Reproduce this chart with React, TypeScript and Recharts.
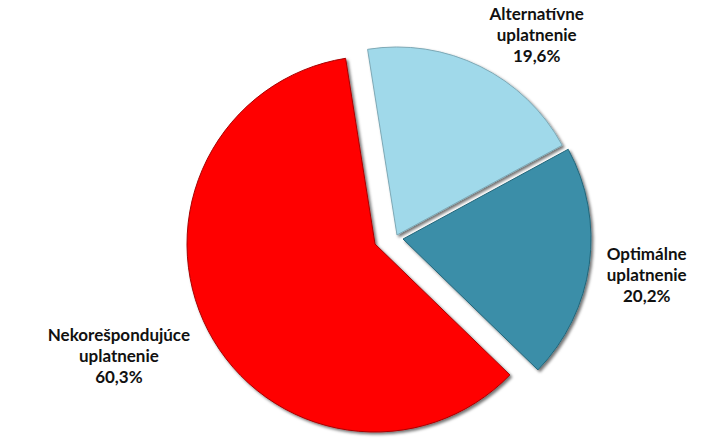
import React from 'react';
import { PieChart, Pie, Cell } from 'recharts';

// slices, clockwise from the top
const categories = ['Alternatívne', 'Optimálne', 'Nekorešpondujúce'];
const subtitle = 'uplatnenie';
const shares = [19.6, 20.2, 60.3];
const shareLabels = ['19,6%', '20,2%', '60,3%'];

const COLORS = ['#a0d9ea', '#3a8ea8', '#ff0000'];
const EDGES = ['#7ea9b6', '#23667a', '#a80000'];
// how far each slice is pulled out of the pie (dx, dy)
const SLICE_SHIFT = [
  [9, -2],
  [15, 2],
  [-13, 7],
];
// small nudges so the labels sit where excel put them
const LABEL_NUDGE = [
  [39, 21],
  [13, 5],
  [-49, 6],
];

const data = categories.map((name, i) => ({ name, value: shares[i], label: shareLabels[i] }));

const CX = 388;
const CY = 237;
const R = 188;
const START = 99;
const END = START - 360;
const RAD = Math.PI / 180;

const renderLabel = (p: any) => {
  const i = p.index;
  const r = p.outerRadius + 60;
  const x = p.cx + r * Math.cos(-p.midAngle * RAD) + LABEL_NUDGE[i][0];
  const y = p.cy + r * Math.sin(-p.midAngle * RAD) + LABEL_NUDGE[i][1];
  return (
    <text
      key={'lbl' + i}
      x={x}
      y={y}
      textAnchor="middle"
      fontFamily="Lato, 'Open Sans', sans-serif"
      fontWeight={700}
      fontSize={17}
      fill="#111"
    >
      <tspan x={x} y={y - 16}>{categories[i]}</tspan>
      <tspan x={x} y={y + 5}>{subtitle}</tspan>
      <tspan x={x} y={y + 26}>{shareLabels[i]}</tspan>
    </text>
  );
};

const App: React.FC = () => {
  return (
    <div style={{ position: 'absolute', left: 0, top: 0, width: 702, height: 443, background: '#fff' }}>
      <svg width={0} height={0} style={{ position: 'absolute' }}>
        <defs>
          <filter id="sliceShadow" x="-15%" y="-15%" width="130%" height="130%">
            <feDropShadow dx="2" dy="2" stdDeviation="1.5" floodColor="#000" floodOpacity="0.55" />
          </filter>
        </defs>
      </svg>
      <PieChart width={702} height={443} margin={{ top: 0, right: 0, bottom: 0, left: 0 }}>
        {data.map((_, k) => (
          <Pie
            key={k}
            data={data}
            dataKey="value"
            cx={CX + SLICE_SHIFT[k][0]}
            cy={CY + SLICE_SHIFT[k][1]}
            outerRadius={R}
            startAngle={START}
            endAngle={END}
            stroke="none"
            isAnimationActive={false}
          >
            {data.map((d, i) => (
              <Cell
                key={i}
                fill={i === k ? COLORS[i] : 'transparent'}
                stroke={i === k ? EDGES[i] : 'none'}
                strokeWidth={1}
                filter={i === k ? 'url(#sliceShadow)' : undefined}
              />
            ))}
          </Pie>
        ))}
        {/* label-only pie at the true centre */}
        <Pie
          data={data}
          dataKey="value"
          cx={CX}
          cy={CY}
          outerRadius={R}
          startAngle={START}
          endAngle={END}
          fill="none"
          stroke="none"
          label={renderLabel}
          labelLine={false}
          isAnimationActive={false}
        >
          {data.map((d, i) => (
            <Cell key={i} fill="none" stroke="none" />
          ))}
        </Pie>
      </PieChart>
    </div>
  );
};

export default App;
